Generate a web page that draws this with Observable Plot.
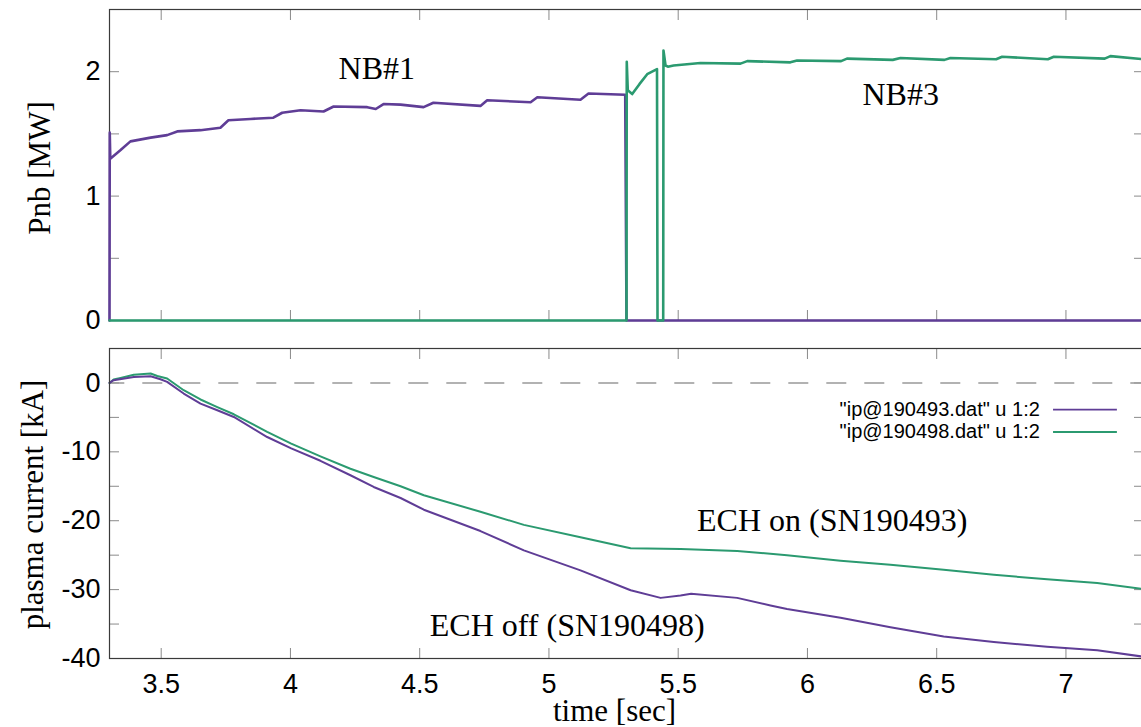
<!DOCTYPE html>
<html><head><meta charset="utf-8">
<script src="https://cdn.jsdelivr.net/npm/d3@7"></script>
<script src="https://cdn.jsdelivr.net/npm/@observablehq/plot@0.6"></script>
<style>
html,body{margin:0;padding:0;background:#fff;overflow:hidden;}
#chart{position:relative;width:1141px;height:727px;overflow:hidden;}
#chart svg{display:block;position:absolute;left:0;}
</style></head><body><div id="chart"></div>
<script>
const purple = "#5f3d96";
const green = "#2b9a70";
const sans = "'Liberation Sans', Arial, Helvetica, sans-serif";
const serif = "'Liberation Serif', 'Times New Roman', serif";

// ticks
const xTicks = [3.5, 4, 4.5, 5, 5.5, 6, 6.5, 7];
const xTickLabels = ["3.5", "4", "4.5", "5", "5.5", "6", "6.5", "7"];
const pnbTicks = [0, 0.5, 1, 1.5, 2];
const pnbTickLabels = ["0", "", "1", "", "2"];
const ipTicks = [-40, -35, -30, -25, -20, -15, -10, -5, 0];
const ipTickLabels = ["-40", "", "-30", "", "-20", "", "-10", "", "0"];

// top panel: NB power [MW]
const nb1Time  = [3.3, 3.301, 3.303, 3.343, 3.381, 3.459, 3.523, 3.562, 3.652, 3.729, 3.76, 3.845, 3.934, 3.968, 4.039, 4.128, 4.167, 4.297, 4.33, 4.36, 4.426, 4.515, 4.553, 4.735, 4.761, 4.929, 4.955, 5.122, 5.153, 5.295, 5.3, 7.3];
const nb1Power = [0, 1.51, 1.30, 1.37, 1.44, 1.47, 1.49, 1.52, 1.53, 1.55, 1.61, 1.62, 1.63, 1.67, 1.69, 1.68, 1.72, 1.715, 1.70, 1.74, 1.735, 1.715, 1.75, 1.725, 1.77, 1.755, 1.795, 1.775, 1.825, 1.815, 0, 0];
const nb3Time  = [3.3, 5.3, 5.301, 5.305, 5.322, 5.35, 5.38, 5.418, 5.42, 5.442, 5.443, 5.451, 5.46, 5.482, 5.534, 5.586, 5.741, 5.767, 5.934, 5.96, 6.13, 6.153, 6.33, 6.36, 6.53, 6.553, 6.73, 6.753, 6.93, 6.953, 7.15, 7.172, 7.3];
const nb3Power = [0, 0, 2.08, 1.85, 1.82, 1.90, 1.98, 2.02, 0, 0, 2.17, 2.05, 2.04, 2.05, 2.06, 2.07, 2.065, 2.085, 2.075, 2.09, 2.085, 2.105, 2.095, 2.11, 2.095, 2.11, 2.10, 2.12, 2.10, 2.12, 2.105, 2.125, 2.10];

// bottom panel: plasma current [kA]
const ip493Time    = [3.3, 3.316, 3.394, 3.459, 3.497, 3.523, 3.587, 3.652, 3.717, 3.781, 3.91, 4.003, 4.116, 4.232, 4.322, 4.426, 4.516, 4.735, 4.903, 5.122, 5.316, 5.432, 5.509, 5.55, 5.728, 5.857, 5.921, 6.128, 6.321, 6.527, 6.721, 6.927, 7.121, 7.292];
const ip493Current = [0, 0.4, 0.87, 0.97, 0.54, 0.15, -1.54, -3.0, -3.97, -4.94, -7.85, -9.5, -11.3, -13.4, -15.1, -16.7, -18.4, -21.5, -24.3, -27.2, -30.1, -31.2, -30.85, -30.6, -31.2, -32.3, -32.8, -34.1, -35.45, -36.8, -37.6, -38.3, -38.8, -39.7];
const ip498Time    = [3.3, 3.316, 3.343, 3.394, 3.459, 3.485, 3.523, 3.587, 3.652, 3.717, 3.781, 3.91, 4.003, 4.116, 4.232, 4.322, 4.426, 4.516, 4.735, 4.903, 5.122, 5.316, 5.509, 5.728, 5.921, 6.128, 6.321, 6.527, 6.721, 6.927, 7.121, 7.292];
const ip498Current = [0, 0.5, 0.73, 1.2, 1.37, 1.0, 0.64, -1.06, -2.4, -3.5, -4.55, -7.1, -8.8, -10.65, -12.45, -13.65, -15.0, -16.3, -18.7, -20.6, -22.4, -24.0, -24.1, -24.4, -25.0, -25.8, -26.4, -27.1, -27.85, -28.5, -29.05, -29.9];

// annotations
const topLabels = ["NB#1", "NB#3"];
const topLabelX = [4.186, 6.213];
const topLabelY = [1.94, 1.736];
const botLabels = ["ECH on (SN190493)", "ECH off (SN190498)"];
const botLabelX = [5.573, 4.539];
const botLabelY = [-21.5, -36.8];
const legendNames = ["\"ip@190493.dat\" u 1:2", "\"ip@190498.dat\" u 1:2"];
const legendColors = [purple, green];
const legendY = [-3.87, -7.12];
const legendTextX = 6.899;
const legendLineX = [6.952, 7.199];

const toRows = (ts, vs) => ts.map((t, i) => ({t, v: vs[i]}));
const fmt = (ticks, labels) => d => labels[ticks.indexOf(d)] ?? "";

const common = {
  width: 1141,
  marginLeft: 109,
  marginRight: -2,
  x: {domain: [3.3, 7.3]},
  style: {fontFamily: sans, fontSize: "27px", color: "#000", background: "transparent"}
};

function frameAxes(yTicks, yFmt, showX) {
  return [
    Plot.axisY({anchor: "left", ticks: yTicks, tickSize: -10, tickPadding: 19, tickFormat: yFmt, label: null, stroke: "#8a8a8a", fill: "#000"}),
    Plot.axisY({anchor: "right", ticks: yTicks, tickSize: -10, tickFormat: () => "", label: null, stroke: "#8a8a8a"}),
    Plot.axisX({anchor: "top", ticks: xTicks, tickSize: -10, tickFormat: () => "", label: null, stroke: "#8a8a8a"}),
    Plot.axisX({anchor: "bottom", ticks: xTicks, tickSize: -10, tickPadding: 25, tickFormat: showX ? fmt(xTicks, xTickLabels) : () => "", label: null, stroke: "#8a8a8a", fill: "#000"})
  ];
}

const topPanel = Plot.plot({
  ...common,
  height: 334,
  marginTop: 9,
  marginBottom: 14,
  y: {domain: [0, 2.5]},
  marks: [
    ...frameAxes(pnbTicks, fmt(pnbTicks, pnbTickLabels), false),
    Plot.frame({stroke: "#3a3a3a", strokeWidth: 1.2}),
    Plot.line(toRows(nb1Time, nb1Power), {x: "t", y: "v", stroke: purple, strokeWidth: 2.6}),
    Plot.line(toRows(nb3Time, nb3Power), {x: "t", y: "v", stroke: green, strokeWidth: 2.6}),
    Plot.text(topLabels, {x: (d, i) => topLabelX[i], y: (d, i) => topLabelY[i], text: d => d, textAnchor: "start", lineAnchor: "bottom", fontFamily: serif, fontSize: 32, fill: "#000"}),
    Plot.text(["Pnb [MW]"], {frameAnchor: "left", dx: -60, dy: 3, rotate: -90, textAnchor: "middle", lineAnchor: "bottom", fontFamily: serif, fontSize: 31, fill: "#000"})
  ]
});
topPanel.style.top = "0px";

const bottomPanel = Plot.plot({
  ...common,
  height: 393,
  marginTop: 14,
  marginBottom: 69,
  y: {domain: [-40, 5]},
  marks: [
    ...frameAxes(ipTicks, fmt(ipTicks, ipTickLabels), true),
    Plot.ruleY([0], {stroke: "#999", strokeWidth: 1.5, strokeDasharray: "20,18", strokeDashoffset: 4.7}),
    Plot.line(toRows(ip498Time, ip498Current), {x: "t", y: "v", stroke: green, strokeWidth: 2}),
    Plot.line(toRows(ip493Time, ip493Current), {x: "t", y: "v", stroke: purple, strokeWidth: 2}),
    Plot.frame({stroke: "#3a3a3a", strokeWidth: 1.2}),
    Plot.text(botLabels, {x: (d, i) => botLabelX[i], y: (d, i) => botLabelY[i], text: d => d, textAnchor: "start", lineAnchor: "bottom", fontFamily: serif, fontSize: 32, fill: "#000"}),
    Plot.text(legendNames, {x: legendTextX, y: (d, i) => legendY[i], text: d => d, textAnchor: "end", lineAnchor: "middle", fontFamily: sans, fontSize: 20, fill: "#000"}),
    Plot.ruleY(legendNames, {x1: legendLineX[0], x2: legendLineX[1], y: (d, i) => legendY[i], stroke: (d, i) => legendColors[i], strokeWidth: 1.8}),
    Plot.text(["plasma current [kA]"], {frameAnchor: "left", dx: -67, dy: 1, rotate: -90, textAnchor: "middle", lineAnchor: "bottom", fontFamily: serif, fontSize: 31, fill: "#000"}),
    Plot.text(["time [sec]"], {frameAnchor: "bottom", dx: -12, dy: 62, textAnchor: "middle", lineAnchor: "bottom", fontFamily: serif, fontSize: 31, fill: "#000"})
  ]
});
bottomPanel.style.top = "334px";

document.getElementById("chart").append(topPanel, bottomPanel);
</script></body></html>
